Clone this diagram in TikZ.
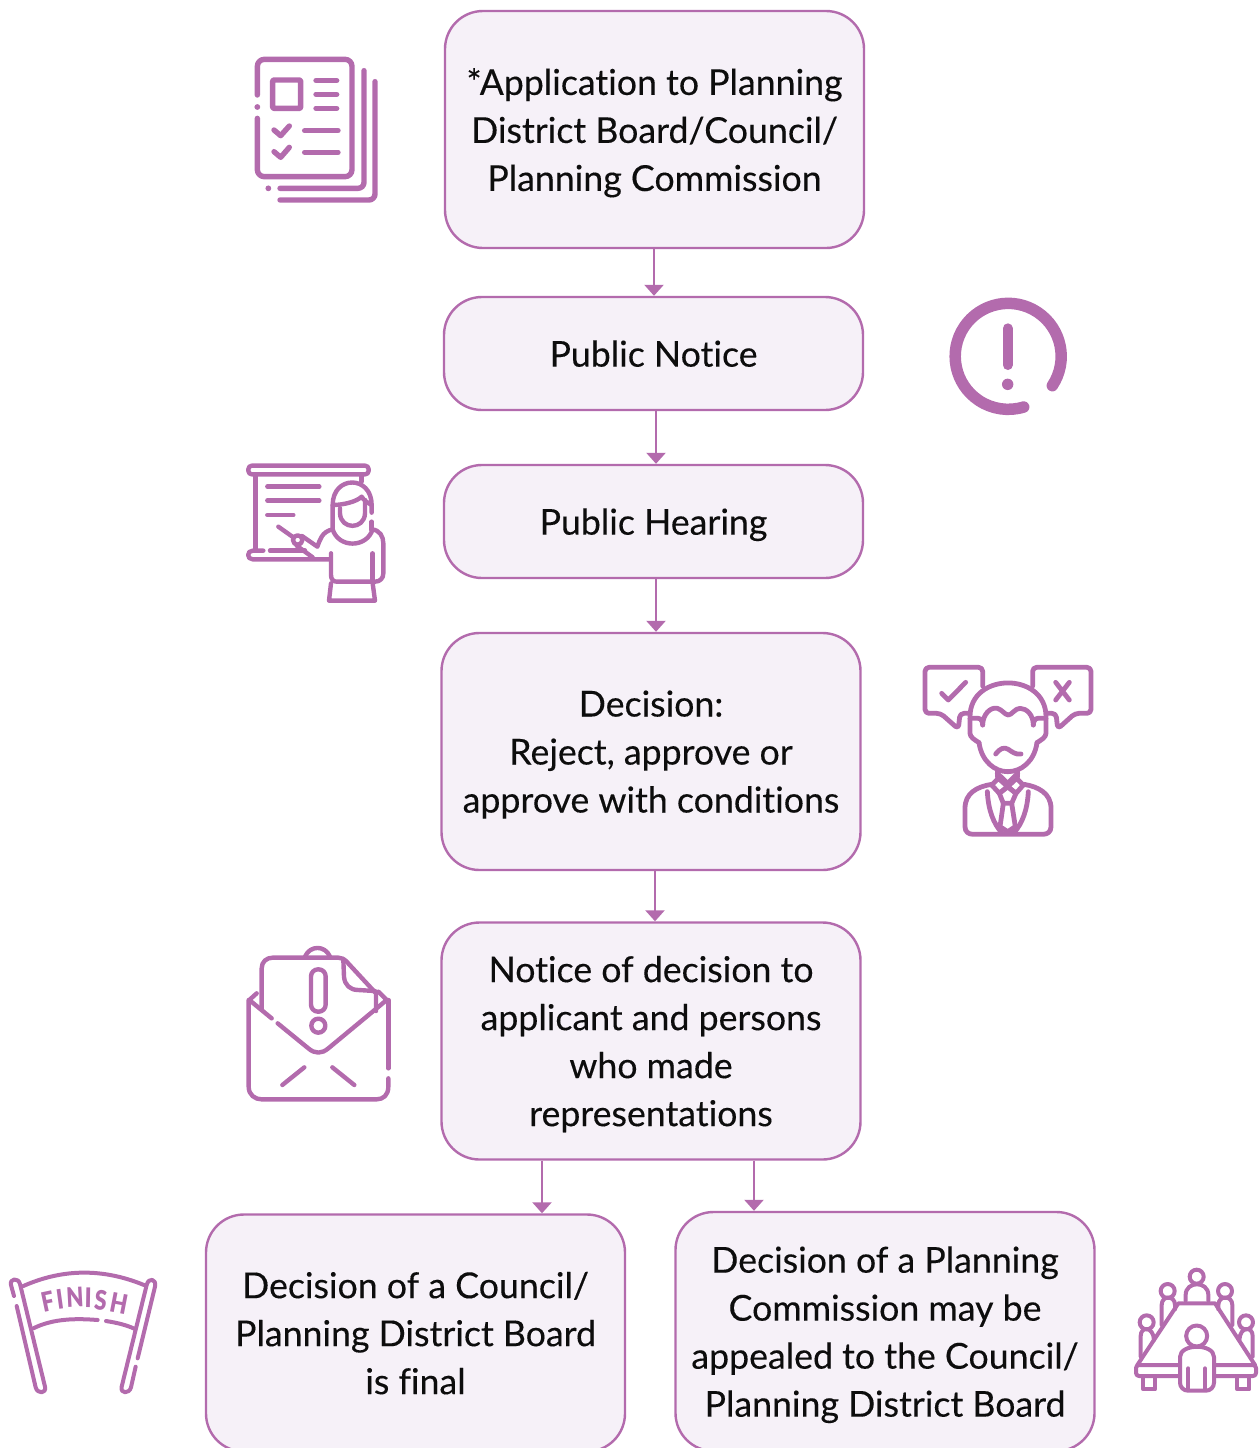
\documentclass[tikz,border=0pt]{standalone}
\usepackage{fontspec}
\setmainfont{Lato}[Ligatures=NoCommon,FakeBold=0.25]
\newfontfamily\finishfont{Lato Black}[FakeStretch=0.82]
\usetikzlibrary{arrows.meta}
\definecolor{ic}{HTML}{B36BAD}
\definecolor{boxfill}{HTML}{F6F1F8}
\definecolor{ink}{HTML}{0D0D0D}
\tikzset{
  flow/.style={draw=ic,fill=boxfill,line width=2.4pt,rounded corners=38pt,minimum width=419pt,inner sep=0pt,align=center,text=ink,text depth=0pt,font=\fontsize{35.7}{48}\selectfont},
  tall/.style={flow,minimum height=237pt},
  short/.style={flow,minimum height=113pt},
  link/.style={draw=ic,line width=2.4pt,-{Triangle[width=19pt,length=11pt]}},
  icon/.style={draw=ic,line cap=round,line join=round},
  dotmark/.style={fill=ic,draw=none},
  flag/.style={inner sep=0pt,text=ic,font=\finishfont\fontsize{27}{27}\selectfont},
}
\begin{document}
\begin{tikzpicture}[x=1pt,y=-1pt]
\useasboundingbox (0,0) rectangle (1258,1448);
\clip (0,0) rectangle (1258,1448);
\node[tall] (b1) at (654.5,129.5) {*Application to Planning\\District Board/Council/\\Planning Commission};
\node[short] (b2) at (653.5,353.5) {Public Notice};
\node[short] (b3) at (653.5,521.5) {Public Hearing};
\node[tall] (b4) at (651,751.5) {Decision:\\Reject, approve or\\approve with conditions};
\node[tall] (b5) at (651,1041) {Notice of decision to\\applicant and persons\\who made\\representations};
\node[tall] (b6) at (415.5,1333) {Decision of a Council/\\Planning District Board\\is final};
\node[tall,minimum height=239pt] (b7) at (885,1331.5) {Decision of a Planning\\Commission may be\\appealed to the Council/\\Planning District Board};
\draw[link] ([xshift=-0.5pt]b1.south) -- ([xshift=0.5pt]b2.north);
\draw[link] ([xshift=2.5pt]b2.south) -- ([xshift=2.5pt]b3.north);
\draw[link] ([xshift=2.5pt]b3.south) -- ([xshift=5pt]b4.north);
\draw[link] ([xshift=4pt]b4.south) -- ([xshift=4pt]b5.north);
\draw[link] ([xshift=-109pt]b5.south) -- ([xshift=126.5pt]b6.north);
\draw[link] ([xshift=103pt]b5.south) -- ([xshift=-131pt]b7.north);

% checklist
\begin{scope}[shift={(230pt,-40pt)},x=0.33333pt,y=-0.33333pt,icon,line width=5.4pt]
\draw[rounded corners=7pt] (82,165)--(82,58)--(366,58)--(366,410)--(82,410)--(82,235);
\fill[dotmark] (82,201) circle[radius=2.9pt] (115,445) circle[radius=2.9pt];
\draw[rounded corners=1pt] (128,120) rectangle (212,205);
\draw (258,122)--(320,122) (258,163)--(320,163) (258,205)--(320,205);
\draw (132,270)--(152,287)--(178,258) (132,335)--(152,352)--(178,322);
\draw (224,272)--(324,272) (224,337)--(324,337);
\draw[rounded corners=6pt] (402,92)--(402,445)--(150,445);
\draw[rounded corners=6pt] (435,125)--(435,480)--(150,480);
\end{scope}

% exclamation circle
\begin{scope}[shift={(930pt,-285pt)},x=0.33333pt,y=-0.33333pt,icon,line width=11.5pt]
\draw (367,302) arc[start angle=-33.6,end angle=287,radius=53pt];
\draw[line width=10pt] (233,130)--(233,240);
\fill[dotmark] (233,298) circle[radius=5.7pt];
\end{scope}

% presenter
\begin{scope}[shift={(230pt,-450pt)},x=0.33333pt,y=-0.33333pt,icon,line width=4.4pt]
\draw[rounded corners=3.5pt] (55,47) rectangle (416,73);
\draw (76,73)--(76,300) (395,73)--(395,95);
\draw (112,110)--(268,110) (112,152)--(268,152) (112,195)--(190,195);
\draw (145,230)--(190,262);
\draw (203,270) circle[radius=4.7pt];
\draw (100,302)--(68,302) .. controls (50,302) and (50,328) .. (68,328) -- (300,328);
\draw (120,302)--(225,302);
\draw (200,287)--(248,322);
\draw (216,258)--(262,290) .. controls (270,270) and (275,245) .. (308,238);
\draw (308,238) .. controls (325,295) and (410,295) .. (428,238);
\draw (308,235)--(308,165) .. controls (308,75) and (425,75) .. (425,165)--(425,188);
\draw (425,215)--(425,240);
\draw (308,165) .. controls (340,165) and (380,155) .. (395,140) .. controls (400,150) and (415,160) .. (425,165);
\draw (330,175)--(330,190) .. controls (332,240) and (403,240) .. (405,190)--(405,150);
\draw (425,238) .. controls (450,240) and (460,260) .. (460,280)--(460,370) .. controls (460,385) and (450,395) .. (435,395)--(320,395) .. controls (310,395) and (303,388) .. (303,375)--(303,310);
\draw (428,310)--(428,395);
\draw (303,400)--(297,452)--(435,452)--(428,400);
\end{scope}

% undecided man
\begin{scope}[shift={(910pt,-650pt)},x=0.33333pt,y=-0.33333pt,icon,line width=4.8pt]
\draw[rounded corners=4pt] (218,108)--(218,52)--(45,52)--(45,190)--(92,190)--(145,237)--(150,190)--(178,190);
\draw[rounded corners=4pt] (368,108)--(368,52)--(543,52)--(543,190)--(495,190)--(443,237)--(438,190)--(410,190);
\draw (437,97)--(478,150) (478,97)--(437,150);
\draw (95,130)--(115,150)--(167,97);
\draw (180,200) .. controls (180,65) and (408,65) .. (408,200);
\draw (180,205)--(205,205) .. controls (213,205) and (218,215) .. (218,225);
\draw (408,205)--(383,205) .. controls (375,205) and (370,215) .. (370,225);
\draw (180,205)--(180,250) .. controls (180,262) and (195,270) .. (207,278);
\draw (408,205)--(408,250) .. controls (408,262) and (393,270) .. (381,278);
\draw (207,278) .. controls (215,335) and (255,365) .. (293,365) .. controls (333,365) and (373,335) .. (381,278);
\draw (218,225) .. controls (218,195) and (240,170) .. (262,175) .. controls (275,178) and (285,195) .. (295,195) .. controls (305,195) and (315,175) .. (330,175) .. controls (350,175) and (370,195) .. (370,225);
\draw (257,312) .. controls (270,295) and (282,290) .. (295,298) .. controls (305,305) and (318,315) .. (333,312);
\draw (262,365)--(262,380) (323,365)--(323,380);
\draw (262,370)--(293,400)--(323,370);
\draw (245,405)--(265,385)--(293,410)--(268,430)--cycle;
\draw (340,405)--(320,385)--(293,410)--(318,430)--cycle;
\draw (268,430)--(293,410)--(318,430)--(305,460)--(280,460)--cycle;
\draw (280,460)--(270,530)--(293,545)--(316,530)--(305,460);
\draw (245,403) .. controls (200,410) and (165,430) .. (165,475)--(165,530) .. controls (165,545) and (175,553) .. (190,553)--(398,553) .. controls (413,553) and (423,545) .. (423,530)--(423,475) .. controls (423,430) and (385,410) .. (342,403);
\draw (232,425) .. controls (235,480) and (250,520) .. (275,548);
\draw (355,425) .. controls (352,480) and (337,520) .. (312,548);
\end{scope}

% envelope
\begin{scope}[shift={(230pt,-935pt)},x=0.33333pt,y=-0.33333pt,icon,line width=4.4pt]
\draw (80,175)--(58,195)--(125,250);
\draw (143,265)--(235,340) .. controls (255,357) and (275,357) .. (295,340)--(470,195)--(445,170);
\draw (56,195)--(56,455) .. controls (56,480) and (75,493) .. (95,493)--(440,493) .. controls (460,493) and (475,480) .. (475,455)--(475,430);
\draw (475,400)--(475,195);
\draw (157,450)--(223,397) (307,397)--(373,450);
\draw (95,225)--(95,100) .. controls (95,80) and (110,68) .. (128,68)--(325,68) .. controls (335,68) and (342,72) .. (350,80)--(438,175)--(438,228);
\draw (340,75)--(342,125) .. controls (344,150) and (360,165) .. (385,165)--(435,168);
\draw (225,65) .. controls (240,30) and (285,30) .. (300,65);
\draw[rounded corners=7pt] (243,103) rectangle (287,230);
\draw (265,272) circle[radius=7pt];
\end{scope}

% finish banner
\begin{scope}[shift={(0pt,-1260pt)},x=0.33333pt,y=-0.33333pt,icon,line width=4pt]
\draw (42,108)--(33,75) .. controls (28,55) and (55,52) .. (60,72)--(135,380) .. controls (140,402) and (112,402) .. (107,382)--(50,138);
\draw (413,295)--(465,80) .. controls (470,55) and (445,52) .. (440,75)--(365,380) .. controls (360,402) and (388,402) .. (393,382)--(407,320);
\draw (70,78) .. controls (190,25) and (310,25) .. (432,75);
\draw (100,205) .. controls (160,175) and (230,175) .. (293,180);
\draw (318,183) .. controls (350,188) and (380,195) .. (405,207);
\node[flag,rotate=12] (f1) at (143,125) {F};
\node[flag,rotate=8] (f2) at (180,118) {I};
\node[flag,rotate=3] (f3) at (225,113) {N};
\node[flag,rotate=-1] (f4) at (265,113) {I};
\node[flag,rotate=-6] (f5) at (302,120) {S};
\node[flag,rotate=-11] (f6) at (357,130) {H};
\end{scope}

% meeting table
\begin{scope}[shift={(1120pt,-1260pt)},x=0.33333pt,y=-0.33333pt,icon,line width=4pt]
\draw (52,315)--(175,130)--(285,130)--(405,315);
\draw[rounded corners=3pt] (48,315) rectangle (408,348);
\draw (70,348)--(70,388)--(105,388)--(105,348) (352,348)--(352,388)--(388,388)--(388,348);
\draw[fill=white,rounded corners=8pt] (180,392)--(180,315) .. controls (180,250) and (282,250) .. (282,315)--(282,392)--cycle;
\draw (205,325)--(205,390) (255,325)--(255,390);
\draw (230,228) circle[radius=10.5pt];
\draw (230,50) circle[radius=7pt];
\draw (197,122)--(197,105) .. controls (197,62) and (265,62) .. (265,105)--(265,122);
\draw (143,93) circle[radius=7pt] (315,93) circle[radius=7pt] (80,187) circle[radius=7pt] (378,187) circle[radius=7pt];
\draw (125,195)--(125,135) .. controls (125,105) and (165,105) .. (165,135)--(165,148);
\draw (337,195)--(337,135) .. controls (337,105) and (295,105) .. (295,135)--(295,148);
\draw (62,290)--(62,228) .. controls (62,198) and (100,198) .. (102,240);
\draw (398,290)--(398,228) .. controls (398,198) and (360,198) .. (358,240);
\end{scope}
\end{tikzpicture}
\end{document}
